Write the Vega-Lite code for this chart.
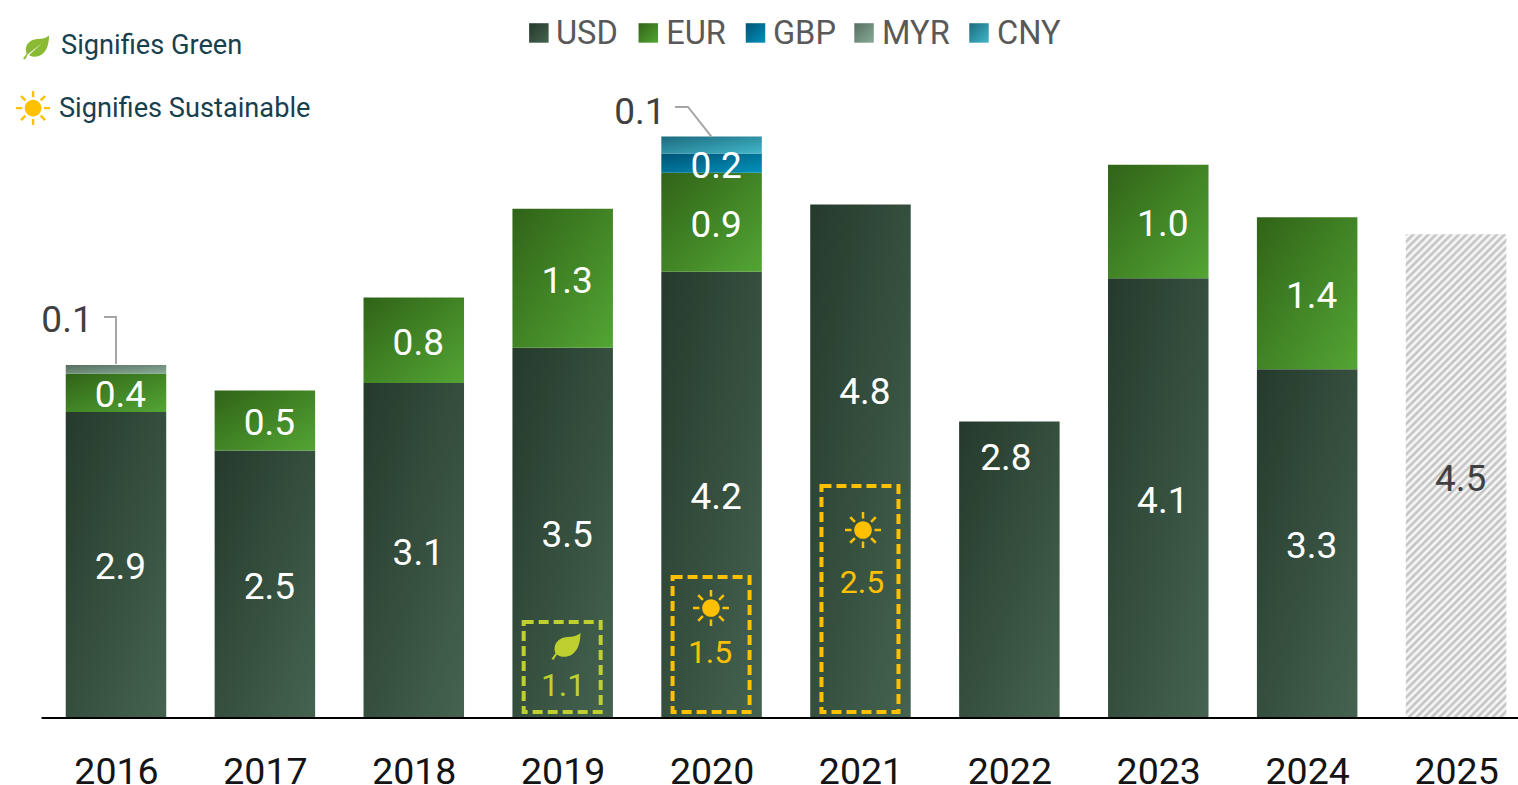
{
"$schema":"https://vega.github.io/schema/vega-lite/v6.json",
"width":1518,"height":718,"autosize":"none","padding":{"left":0,"top":0,"right":0,"bottom":67},
"background":"white",
"config":{"view":{"stroke":null},"font":"Roboto"},
"datasets":{
"bars":[
{"year":2016,"currency":"USD","order":1,"value":2.86,"label":"2.9"},
{"year":2016,"currency":"EUR","order":2,"value":0.36,"label":"0.4"},
{"year":2016,"currency":"MYR","order":4,"value":0.08,"label":""},
{"year":2017,"currency":"USD","order":1,"value":2.5,"label":"2.5"},
{"year":2017,"currency":"EUR","order":2,"value":0.56,"label":"0.5"},
{"year":2018,"currency":"USD","order":1,"value":3.13,"label":"3.1"},
{"year":2018,"currency":"EUR","order":2,"value":0.8,"label":"0.8"},
{"year":2019,"currency":"USD","order":1,"value":3.46,"label":"3.5"},
{"year":2019,"currency":"EUR","order":2,"value":1.3,"label":"1.3"},
{"year":2020,"currency":"USD","order":1,"value":4.17,"label":"4.2"},
{"year":2020,"currency":"EUR","order":2,"value":0.925,"label":"0.9"},
{"year":2020,"currency":"GBP","order":3,"value":0.18,"label":"0.2"},
{"year":2020,"currency":"CNY","order":5,"value":0.16,"label":""},
{"year":2021,"currency":"USD","order":1,"value":4.8,"label":""},
{"year":2022,"currency":"USD","order":1,"value":2.77,"label":""},
{"year":2023,"currency":"USD","order":1,"value":4.11,"label":"4.1"},
{"year":2023,"currency":"EUR","order":2,"value":1.06,"label":"1.0"},
{"year":2024,"currency":"USD","order":1,"value":3.26,"label":"3.3"},
{"year":2024,"currency":"EUR","order":2,"value":1.42,"label":"1.4"}
],
"forecast":[{"year":2025,"value":4.52,"label":"4.5","at":2.26}],
"baseline":[{"from":2015.5,"to":2025.416,"at":0}],
"swatches":[
{"currency":"USD","slot":2018.84,"textSlot":2018.955,"at":6.402},
{"currency":"EUR","slot":2019.575,"textSlot":2019.695,"at":6.402},
{"currency":"GBP","slot":2020.295,"textSlot":2020.412,"at":6.402},
{"currency":"MYR","slot":2021.024,"textSlot":2021.145,"at":6.402},
{"currency":"CNY","slot":2021.796,"textSlot":2021.917,"at":6.402}
],
"moved":[
{"slot":2021.03,"at":3.056,"label":"4.8"},
{"slot":2021.977,"at":2.44,"label":"2.8"}
],
"outside":[
{"slot":2015.671,"at":3.729,"label":"0.1"},
{"slot":2019.519,"at":5.682,"label":"0.1"}
],
"leaders":[
{"leader":"2016","step":1,"slot":2015.919,"at":3.748},
{"leader":"2016","step":2,"slot":2016,"at":3.748},
{"leader":"2016","step":3,"slot":2016,"at":3.308},
{"leader":"2020","step":1,"slot":2019.754,"at":5.71},
{"leader":"2020","step":2,"slot":2019.842,"at":5.71},
{"leader":"2020","step":3,"slot":2020,"at":5.43}
],
"boxes":[
{"year":2019,"theme":"Green","top":0.897,"bottom":0.056},
{"year":2020,"theme":"Sustainable","top":1.318,"bottom":0.056},
{"year":2021,"theme":"Sustainable","top":2.168,"bottom":0.056}
],
"themed":[
{"theme":"Green","slot":2018.996,"at":0.308,"label":"1.1"},
{"theme":"Sustainable","slot":2019.99,"at":0.617,"label":"1.5"},
{"theme":"Sustainable","slot":2021.01,"at":1.271,"label":"2.5"}
],
"suns":[
{"slot":2019.996,"at":1.028},
{"slot":2021.017,"at":1.757}
],
"key":[
{"slot":2015.631,"at":6.29,"label":"Signifies Green"},
{"slot":2015.617,"at":5.70,"label":"Signifies Sustainable"}
]
},
"layer":[
{"encoding":{"color":{"condition":[
{"test":"datum.currency == 'EUR'","value":{"gradient":"linear","x1":0,"y1":0,"x2":1,"y2":1,"stops":[{"offset":0,"color":"#306317"},{"offset":1,"color":"#53a534"}]}},
{"test":"datum.currency == 'GBP'","value":{"gradient":"linear","x1":0,"y1":0,"x2":1,"y2":1,"stops":[{"offset":0,"color":"#005375"},{"offset":1,"color":"#0092bb"}]}},
{"test":"datum.currency == 'MYR'","value":{"gradient":"linear","x1":0,"y1":0,"x2":1,"y2":1,"stops":[{"offset":0,"color":"#566f60"},{"offset":1,"color":"#88ab97"}]}},
{"test":"datum.currency == 'CNY'","value":{"gradient":"linear","x1":0,"y1":0,"x2":1,"y2":1,"stops":[{"offset":0,"color":"#1c6a7e"},{"offset":1,"color":"#42b7ca"}]}}
],"value":{"gradient":"linear","x1":0,"y1":0,"x2":1,"y2":1,"stops":[{"offset":0,"color":"#253a2c"},{"offset":1,"color":"#456350"}]}}},
"layer":[
{"data":{"name":"bars"},
"transform":[{"stack":"value","groupby":["year"],"sort":[{"field":"order","order":"ascending"}],"as":["v0","v1"]}],
"mark":{"type":"bar","width":100.5},
"encoding":{
"x":{"field":"year","type":"quantitative","scale":{"domain":[2015.221,2025.416],"range":[0,1518],"nice":false,"zero":false,"padding":0},"axis":{"values":[2016,2017,2018,2019,2020,2021,2022,2023,2024,2025],"format":"d","title":null,"grid":false,"ticks":false,"domain":false,"labelFontSize":37.5,"labelFont":"Roboto","labelColor":"#141414","labelPadding":35,"labelOverlap":false,"labelBound":false,"labelFlush":false}},
"y":{"field":"v0","type":"quantitative","scale":{"domain":[0,6.71],"range":[718,0],"nice":false},"axis":null},"y2":{"field":"v1"}
}},
{"data":{"name":"swatches"},
"mark":{"type":"point","shape":"square","filled":true,"opacity":1,"size":380},
"encoding":{"x":{"field":"slot","type":"quantitative"},"y":{"field":"at","type":"quantitative"}}}
]},
{"data":{"name":"swatches"},"mark":{"type":"text","align":"left","baseline":"middle","dy":1.5,"fontSize":32.6,"font":"Roboto","color":"#595959"},
"encoding":{"x":{"field":"textSlot","type":"quantitative"},"y":{"field":"at","type":"quantitative"},"text":{"field":"currency"}}},
{"data":{"name":"forecast"},"layer":[
{"mark":{"type":"bar","width":100.5,"color":{"gradient":"linear","x1":0,"y1":0,"x2":0.2404,"y2":1.158,"stops":[
{"offset":0,"color":"#bcbcbc"},{"offset":0.0065,"color":"#ffffff"},{"offset":0.013,"color":"#bcbcbc"},{"offset":0.0195,"color":"#ffffff"},{"offset":0.026,"color":"#bcbcbc"},{"offset":0.0325,"color":"#ffffff"},{"offset":0.039,"color":"#bcbcbc"},{"offset":0.0455,"color":"#ffffff"},{"offset":0.052,"color":"#bcbcbc"},{"offset":0.0585,"color":"#ffffff"},
{"offset":0.065,"color":"#bcbcbc"},{"offset":0.0715,"color":"#ffffff"},{"offset":0.078,"color":"#bcbcbc"},{"offset":0.0845,"color":"#ffffff"},{"offset":0.091,"color":"#bcbcbc"},{"offset":0.0975,"color":"#ffffff"},{"offset":0.104,"color":"#bcbcbc"},{"offset":0.1105,"color":"#ffffff"},{"offset":0.117,"color":"#bcbcbc"},{"offset":0.1235,"color":"#ffffff"},
{"offset":0.13,"color":"#bcbcbc"},{"offset":0.1365,"color":"#ffffff"},{"offset":0.143,"color":"#bcbcbc"},{"offset":0.1495,"color":"#ffffff"},{"offset":0.156,"color":"#bcbcbc"},{"offset":0.1625,"color":"#ffffff"},{"offset":0.169,"color":"#bcbcbc"},{"offset":0.1755,"color":"#ffffff"},{"offset":0.182,"color":"#bcbcbc"},{"offset":0.1885,"color":"#ffffff"},
{"offset":0.195,"color":"#bcbcbc"},{"offset":0.2015,"color":"#ffffff"},{"offset":0.208,"color":"#bcbcbc"},{"offset":0.2145,"color":"#ffffff"},{"offset":0.221,"color":"#bcbcbc"},{"offset":0.2275,"color":"#ffffff"},{"offset":0.234,"color":"#bcbcbc"},{"offset":0.2405,"color":"#ffffff"},{"offset":0.247,"color":"#bcbcbc"},{"offset":0.2535,"color":"#ffffff"},
{"offset":0.26,"color":"#bcbcbc"},{"offset":0.2665,"color":"#ffffff"},{"offset":0.273,"color":"#bcbcbc"},{"offset":0.2795,"color":"#ffffff"},{"offset":0.286,"color":"#bcbcbc"},{"offset":0.2925,"color":"#ffffff"},{"offset":0.299,"color":"#bcbcbc"},{"offset":0.3055,"color":"#ffffff"},{"offset":0.312,"color":"#bcbcbc"},{"offset":0.3185,"color":"#ffffff"},
{"offset":0.325,"color":"#bcbcbc"},{"offset":0.3315,"color":"#ffffff"},{"offset":0.338,"color":"#bcbcbc"},{"offset":0.3445,"color":"#ffffff"},{"offset":0.351,"color":"#bcbcbc"},{"offset":0.3575,"color":"#ffffff"},{"offset":0.364,"color":"#bcbcbc"},{"offset":0.3705,"color":"#ffffff"},{"offset":0.377,"color":"#bcbcbc"},{"offset":0.3835,"color":"#ffffff"},
{"offset":0.39,"color":"#bcbcbc"},{"offset":0.3965,"color":"#ffffff"},{"offset":0.403,"color":"#bcbcbc"},{"offset":0.4095,"color":"#ffffff"},{"offset":0.416,"color":"#bcbcbc"},{"offset":0.4225,"color":"#ffffff"},{"offset":0.429,"color":"#bcbcbc"},{"offset":0.4355,"color":"#ffffff"},{"offset":0.442,"color":"#bcbcbc"},{"offset":0.4485,"color":"#ffffff"},
{"offset":0.455,"color":"#bcbcbc"},{"offset":0.4615,"color":"#ffffff"},{"offset":0.468,"color":"#bcbcbc"},{"offset":0.4745,"color":"#ffffff"},{"offset":0.481,"color":"#bcbcbc"},{"offset":0.4875,"color":"#ffffff"},{"offset":0.494,"color":"#bcbcbc"},{"offset":0.5005,"color":"#ffffff"},{"offset":0.507,"color":"#bcbcbc"},{"offset":0.5135,"color":"#ffffff"},
{"offset":0.52,"color":"#bcbcbc"},{"offset":0.5265,"color":"#ffffff"},{"offset":0.533,"color":"#bcbcbc"},{"offset":0.5395,"color":"#ffffff"},{"offset":0.546,"color":"#bcbcbc"},{"offset":0.5525,"color":"#ffffff"},{"offset":0.559,"color":"#bcbcbc"},{"offset":0.5655,"color":"#ffffff"},{"offset":0.572,"color":"#bcbcbc"},{"offset":0.5785,"color":"#ffffff"},
{"offset":0.585,"color":"#bcbcbc"},{"offset":0.5915,"color":"#ffffff"},{"offset":0.598,"color":"#bcbcbc"},{"offset":0.6045,"color":"#ffffff"},{"offset":0.611,"color":"#bcbcbc"},{"offset":0.6175,"color":"#ffffff"},{"offset":0.624,"color":"#bcbcbc"},{"offset":0.6305,"color":"#ffffff"},{"offset":0.637,"color":"#bcbcbc"},{"offset":0.6435,"color":"#ffffff"},
{"offset":0.65,"color":"#bcbcbc"},{"offset":0.6565,"color":"#ffffff"},{"offset":0.663,"color":"#bcbcbc"},{"offset":0.6695,"color":"#ffffff"},{"offset":0.676,"color":"#bcbcbc"},{"offset":0.6825,"color":"#ffffff"},{"offset":0.689,"color":"#bcbcbc"},{"offset":0.6955,"color":"#ffffff"},{"offset":0.702,"color":"#bcbcbc"},{"offset":0.7085,"color":"#ffffff"},
{"offset":0.715,"color":"#bcbcbc"},{"offset":0.7215,"color":"#ffffff"},{"offset":0.728,"color":"#bcbcbc"},{"offset":0.7345,"color":"#ffffff"},{"offset":0.741,"color":"#bcbcbc"},{"offset":0.7475,"color":"#ffffff"},{"offset":0.754,"color":"#bcbcbc"},{"offset":0.7605,"color":"#ffffff"},{"offset":0.767,"color":"#bcbcbc"},{"offset":0.7735,"color":"#ffffff"},
{"offset":0.78,"color":"#bcbcbc"},{"offset":0.7865,"color":"#ffffff"},{"offset":0.793,"color":"#bcbcbc"},{"offset":0.7995,"color":"#ffffff"},{"offset":0.806,"color":"#bcbcbc"},{"offset":0.8125,"color":"#ffffff"},{"offset":0.819,"color":"#bcbcbc"},{"offset":0.8255,"color":"#ffffff"},{"offset":0.832,"color":"#bcbcbc"},{"offset":0.8385,"color":"#ffffff"},
{"offset":0.845,"color":"#bcbcbc"},{"offset":0.8515,"color":"#ffffff"},{"offset":0.858,"color":"#bcbcbc"},{"offset":0.8645,"color":"#ffffff"},{"offset":0.871,"color":"#bcbcbc"},{"offset":0.8775,"color":"#ffffff"},{"offset":0.884,"color":"#bcbcbc"},{"offset":0.8905,"color":"#ffffff"},{"offset":0.897,"color":"#bcbcbc"},{"offset":0.9035,"color":"#ffffff"},
{"offset":0.91,"color":"#bcbcbc"},{"offset":0.9165,"color":"#ffffff"},{"offset":0.923,"color":"#bcbcbc"},{"offset":0.9295,"color":"#ffffff"},{"offset":0.936,"color":"#bcbcbc"},{"offset":0.9425,"color":"#ffffff"},{"offset":0.949,"color":"#bcbcbc"},{"offset":0.9555,"color":"#ffffff"},{"offset":0.962,"color":"#bcbcbc"},{"offset":0.9685,"color":"#ffffff"},
{"offset":0.975,"color":"#bcbcbc"},{"offset":0.9815,"color":"#ffffff"},{"offset":0.988,"color":"#bcbcbc"},{"offset":0.9945,"color":"#ffffff"},{"offset":1,"color":"#bcbcbc"}
]}},
"encoding":{"x":{"field":"year","type":"quantitative"},"y":{"field":"value","type":"quantitative"}}},
{"mark":{"type":"text","fontSize":37,"font":"Roboto","color":"#404040","dx":4.5,"dy":4,"baseline":"middle"},
"encoding":{"x":{"field":"year","type":"quantitative"},"y":{"field":"at","type":"quantitative"},"text":{"field":"label"}}}
]},
{"data":{"name":"baseline"},"mark":{"type":"rule","color":"#000000","strokeWidth":2},
"encoding":{"x":{"field":"from","type":"quantitative"},"x2":{"field":"to"},"y":{"field":"at","type":"quantitative"}}},
{"data":{"name":"bars"},
"transform":[{"filter":"datum.label != ''"}],
"mark":{"type":"text","fontSize":37,"font":"Roboto","color":"#ffffff","dx":4.5,"dy":3.5,"baseline":"middle"},
"encoding":{"x":{"field":"year","type":"quantitative"},"y":{"field":"value","type":"quantitative","stack":"zero","bandPosition":0.5},"detail":{"field":"currency"},"order":{"field":"order"},"text":{"field":"label"}}},
{"data":{"name":"moved"},"mark":{"type":"text","fontSize":37,"font":"Roboto","color":"#ffffff","baseline":"middle","dy":2.5},
"encoding":{"x":{"field":"slot","type":"quantitative"},"y":{"field":"at","type":"quantitative"},"text":{"field":"label"}}},
{"data":{"name":"outside"},"mark":{"type":"text","fontSize":37,"font":"Roboto","color":"#404040","baseline":"middle","dy":2.5},
"encoding":{"x":{"field":"slot","type":"quantitative"},"y":{"field":"at","type":"quantitative"},"text":{"field":"label"}}},
{"data":{"name":"leaders"},"mark":{"type":"line","color":"#a6a6a6","strokeWidth":2},
"encoding":{"x":{"field":"slot","type":"quantitative"},"y":{"field":"at","type":"quantitative"},"detail":{"field":"leader"},"order":{"field":"step"}}},
{"data":{"name":"boxes"},"transform":[{"filter":"datum.theme == 'Green'"}],
"mark":{"type":"bar","width":77,"xOffset":-0.5,"fill":"transparent","stroke":"#bdd030","strokeWidth":4,"strokeDash":[10,5]},
"encoding":{"x":{"field":"year","type":"quantitative"},"y":{"field":"bottom","type":"quantitative"},"y2":{"field":"top"}}},
{"data":{"name":"boxes"},"transform":[{"filter":"datum.theme == 'Sustainable'"}],
"mark":{"type":"bar","width":77,"xOffset":-0.5,"fill":"transparent","stroke":"#ffc000","strokeWidth":4,"strokeDash":[10,5]},
"encoding":{"x":{"field":"year","type":"quantitative"},"y":{"field":"bottom","type":"quantitative"},"y2":{"field":"top"}}},
{"data":{"name":"themed"},"transform":[{"filter":"datum.theme == 'Green'"}],
"mark":{"type":"text","fontSize":32,"font":"Roboto","color":"#bdd030","baseline":"middle","dy":1,"dx":1},
"encoding":{"x":{"field":"slot","type":"quantitative"},"y":{"field":"at","type":"quantitative"},"text":{"field":"label"}}},
{"data":{"name":"themed"},"transform":[{"filter":"datum.theme == 'Sustainable'"}],
"mark":{"type":"text","fontSize":32,"font":"Roboto","color":"#ffc000","baseline":"middle","dy":1},
"encoding":{"x":{"field":"slot","type":"quantitative"},"y":{"field":"at","type":"quantitative"},"text":{"field":"label"}}},
{"data":{"values":[{"slot":2019.022,"at":0.673}]},
"mark":{"type":"point","filled":true,"opacity":1,"color":"#bdd030","size":841,"shape":"M-1,.9L-.72,.5C-.95,-.1 -.5,-.6 .1,-.62C.5,-.65 .8,-.7 1,-.9C1,-.2 .8,.4 .3,.65C-.1,.8 -.4,.75 -.62,.58L-.85,.95Z"},
"encoding":{"x":{"field":"slot","type":"quantitative"},"y":{"field":"at","type":"quantitative"}}},
{"data":{"values":[{"slot":2015.463,"at":6.27}]},
"mark":{"type":"point","filled":true,"opacity":1,"color":"#8ab933","size":676,"shape":"M-1,.9L-.72,.5C-.95,-.1 -.5,-.6 .1,-.62C.5,-.65 .8,-.7 1,-.9C1,-.2 .8,.4 .3,.65C-.1,.8 -.4,.75 -.62,.58L-.85,.95Z"},
"encoding":{"x":{"field":"slot","type":"quantitative"},"y":{"field":"at","type":"quantitative"}}},
{"data":{"values":[{"slot":2015.463,"at":6.27}]},
"mark":{"type":"point","filled":true,"opacity":1,"color":"#ffffff","size":676,"shape":"M-.72,.62L.45,-.3L-.62,.68Z"},
"encoding":{"x":{"field":"slot","type":"quantitative"},"y":{"field":"at","type":"quantitative"}}},
{"data":{"name":"suns"},
"mark":{"type":"point","filled":true,"opacity":1,"color":"#ffc000","size":1296,"shape":"M-.49,0A.49,.49 0 1,1 .49,0A.49,.49 0 1,1 -.49,0ZM-.07,-1H.07V-.64H-.07ZM-.07,.64H.07V1H-.07ZM-1,-.07H-.64V.07H-1ZM.64,-.07H1V.07H.64ZM.4,-.5L.5,-.4L.76,-.66L.66,-.76ZM-.4,.5L-.5,.4L-.76,.66L-.66,.76ZM-.5,-.4L-.4,-.5L-.66,-.76L-.76,-.66ZM.5,.4L.4,.5L.66,.76L.76,.66Z"},
"encoding":{"x":{"field":"slot","type":"quantitative"},"y":{"field":"at","type":"quantitative"}}},
{"data":{"values":[{"slot":2015.443,"at":5.70}]},
"mark":{"type":"point","filled":true,"opacity":1,"color":"#ffc000","size":1156,"shape":"M-.49,0A.49,.49 0 1,1 .49,0A.49,.49 0 1,1 -.49,0ZM-.07,-1H.07V-.64H-.07ZM-.07,.64H.07V1H-.07ZM-1,-.07H-.64V.07H-1ZM.64,-.07H1V.07H.64ZM.4,-.5L.5,-.4L.76,-.66L.66,-.76ZM-.4,.5L-.5,.4L-.76,.66L-.66,.76ZM-.5,-.4L-.4,-.5L-.66,-.76L-.76,-.66ZM.5,.4L.4,.5L.66,.76L.76,.66Z"},
"encoding":{"x":{"field":"slot","type":"quantitative"},"y":{"field":"at","type":"quantitative"}}},
{"data":{"name":"key"},"mark":{"type":"text","fontSize":27.2,"font":"Roboto","color":"#17404f","align":"left","baseline":"middle","dy":1},
"encoding":{"x":{"field":"slot","type":"quantitative"},"y":{"field":"at","type":"quantitative"},"text":{"field":"label"}}}
]
}
